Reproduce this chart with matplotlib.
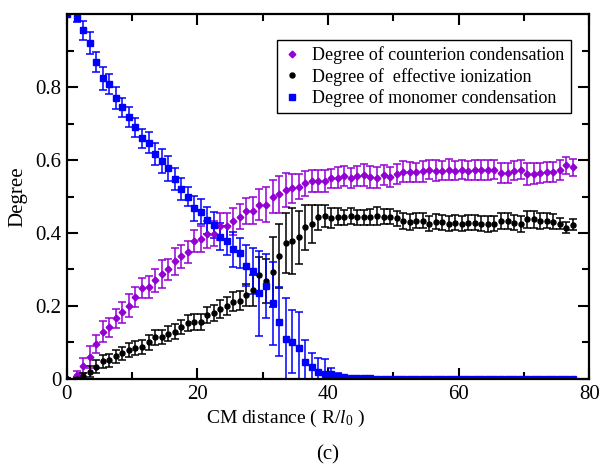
import numpy as np
import matplotlib
matplotlib.use("Agg")
import matplotlib.pyplot as plt
from matplotlib.ticker import FixedLocator, MultipleLocator

plt.rcParams['font.family'] = ['Liberation Serif', 'DejaVu Serif']
plt.rcParams['mathtext.fontset'] = 'custom'
plt.rcParams['mathtext.rm'] = 'Liberation Serif'
plt.rcParams['mathtext.it'] = 'Liberation Serif:italic'

# CM distance grid (R / l0)
distance = np.concatenate([[0.0], np.arange(1, 78) + 0.5])

counterion = [
    0.0, 0.012, 0.036, 0.060, 0.096, 0.130, 0.142, 0.166, 0.183, 0.201,
    0.225, 0.250, 0.251, 0.270, 0.288, 0.300, 0.322, 0.336, 0.347, 0.379,
    0.384, 0.397, 0.398, 0.418, 0.419, 0.432, 0.445, 0.461, 0.461, 0.478,
    0.478, 0.500, 0.506, 0.518, 0.522, 0.527, 0.536, 0.543, 0.543, 0.543,
    0.550, 0.552, 0.556, 0.550, 0.556, 0.559, 0.554, 0.552, 0.559, 0.554,
    0.561, 0.568, 0.568, 0.566, 0.569, 0.574, 0.571, 0.571, 0.574, 0.571,
    0.574, 0.571, 0.573, 0.573, 0.573, 0.574, 0.565, 0.565, 0.571, 0.574,
    0.562, 0.563, 0.565, 0.568, 0.568, 0.573, 0.586, 0.580,
]
counterion_err = [
    0.003, 0.010, 0.021, 0.030, 0.025, 0.029, 0.026, 0.027, 0.029, 0.031,
    0.027, 0.028, 0.030, 0.032, 0.038, 0.030, 0.038, 0.032, 0.030, 0.030,
    0.036, 0.037, 0.035, 0.037, 0.035, 0.037, 0.035, 0.035, 0.037, 0.043,
    0.048, 0.046, 0.050, 0.046, 0.041, 0.034, 0.034, 0.030, 0.030, 0.030,
    0.026, 0.028, 0.027, 0.028, 0.028, 0.030, 0.030, 0.030, 0.028, 0.028,
    0.028, 0.028, 0.027, 0.027, 0.028, 0.027, 0.028, 0.027, 0.028, 0.027,
    0.027, 0.027, 0.028, 0.027, 0.027, 0.027, 0.028, 0.028, 0.027, 0.027,
    0.030, 0.028, 0.028, 0.027, 0.027, 0.027, 0.023, 0.023,
]

ionization = [
    0.0, 0.0, 0.007, 0.020, 0.034, 0.048, 0.051, 0.062, 0.070, 0.080,
    0.085, 0.088, 0.100, 0.114, 0.115, 0.124, 0.130, 0.142, 0.154, 0.155,
    0.157, 0.174, 0.180, 0.192, 0.200, 0.212, 0.215, 0.229, 0.243, 0.285,
    0.268, 0.292, 0.338, 0.373, 0.379, 0.388, 0.416, 0.424, 0.443, 0.447,
    0.442, 0.445, 0.443, 0.447, 0.443, 0.443, 0.445, 0.447, 0.445, 0.445,
    0.440, 0.433, 0.431, 0.434, 0.434, 0.426, 0.431, 0.429, 0.426, 0.428,
    0.426, 0.428, 0.428, 0.426, 0.425, 0.426, 0.434, 0.434, 0.428, 0.425,
    0.437, 0.437, 0.434, 0.434, 0.431, 0.426, 0.415, 0.422,
]
ionization_err = [
    0.003, 0.004, 0.010, 0.015, 0.017, 0.017, 0.018, 0.018, 0.018, 0.019,
    0.019, 0.019, 0.020, 0.020, 0.020, 0.020, 0.020, 0.020, 0.022, 0.022,
    0.022, 0.022, 0.022, 0.024, 0.025, 0.027, 0.025, 0.030, 0.043, 0.050,
    0.060, 0.096, 0.088, 0.082, 0.090, 0.073, 0.062, 0.052, 0.034, 0.031,
    0.027, 0.023, 0.021, 0.021, 0.020, 0.021, 0.022, 0.024, 0.020, 0.020,
    0.020, 0.022, 0.022, 0.020, 0.020, 0.021, 0.021, 0.020, 0.021, 0.020,
    0.021, 0.020, 0.020, 0.020, 0.021, 0.021, 0.022, 0.022, 0.020, 0.022,
    0.024, 0.022, 0.022, 0.021, 0.020, 0.015, 0.015, 0.015,
]

monomer = [
    1.000, 0.989, 0.955, 0.920, 0.869, 0.824, 0.808, 0.770, 0.744, 0.717,
    0.690, 0.659, 0.648, 0.616, 0.597, 0.577, 0.547, 0.521, 0.500, 0.468,
    0.458, 0.435, 0.422, 0.390, 0.379, 0.355, 0.344, 0.310, 0.296, 0.235,
    0.255, 0.207, 0.157, 0.110, 0.102, 0.086, 0.046, 0.034, 0.018, 0.013,
    0.014, 0.009, 0.004, 0.003, 0.002, 0.002, 0.002, 0.001, 0.001, 0.001,
    0.001, 0.001, 0.001, 0.001, 0.001, 0.001, 0.001, 0.001, 0.001, 0.001,
    0.001, 0.001, 0.001, 0.001, 0.001, 0.001, 0.001, 0.001, 0.001, 0.001,
    0.001, 0.001, 0.001, 0.001, 0.001, 0.001, 0.001, 0.001,
]
monomer_err = [
    0.003, 0.012, 0.025, 0.030, 0.027, 0.031, 0.028, 0.031, 0.026, 0.027,
    0.026, 0.027, 0.030, 0.031, 0.033, 0.035, 0.030, 0.030, 0.027, 0.034,
    0.034, 0.037, 0.035, 0.037, 0.039, 0.048, 0.041, 0.056, 0.063, 0.116,
    0.088, 0.114, 0.095, 0.113, 0.086, 0.098, 0.062, 0.036, 0.039, 0.043,
    0.015, 0.008, 0.005, 0.003, 0.002, 0.002, 0.002, 0.002, 0.002, 0.002,
    0.002, 0.002, 0.002, 0.002, 0.002, 0.002, 0.002, 0.002, 0.002, 0.002,
    0.002, 0.002, 0.002, 0.002, 0.002, 0.002, 0.002, 0.002, 0.002, 0.002,
    0.002, 0.002, 0.002, 0.002, 0.002, 0.002, 0.002, 0.002,
]

series = [
    ("Degree of counterion condensation", counterion, counterion_err, "#9400D3", "D", 3.4),
    ("Degree of  effective ionization", ionization, ionization_err, "black", "o", 3.6),
    ("Degree of monomer condensation", monomer, monomer_err, "#0000FF", "s", 4.4),
]

fig = plt.figure(figsize=(6.03, 4.69), dpi=100)
ax = fig.add_axes([0.111, 0.192, 0.866, 0.778])

for label, vals, errs, color, marker, ms in series:
    ax.errorbar(distance, vals, yerr=errs, fmt=marker, color=color, ms=ms,
                mec=color, elinewidth=1.1, capsize=3, capthick=1.1, label=label)

ax.set_xlim(0, 80)
ax.set_ylim(0, 1.0)
ax.xaxis.set_major_locator(MultipleLocator(20))
ax.xaxis.set_minor_locator(MultipleLocator(10))
ax.yaxis.set_major_locator(FixedLocator([0, 0.2, 0.4, 0.6, 0.8]))
ax.yaxis.set_minor_locator(FixedLocator([0.1, 0.3, 0.5, 0.7, 0.9]))
ax.set_yticklabels(["0", "0.2", "0.4", "0.6", "0.8"])

ax.tick_params(which="both", direction="in", top=True, right=True, width=1.5)
ax.tick_params(which="major", length=8, labelsize=15, pad=4)
ax.tick_params(which="minor", length=5)
for sp in ax.spines.values():
    sp.set_linewidth(1.6)

ax.set_ylabel("Degree", fontsize=15, labelpad=6)
ax.text(0.418, -0.12, r"CM distance ( R/$\mathit{l}_{\mathit{0}}$ )",
        transform=ax.transAxes, ha="center", va="baseline", fontsize=14)
fig.text(0.544, 0.021, "(c)", ha="center", va="baseline", fontsize=15)

handles, labels = ax.get_legend_handles_labels()
handles = [h[0] for h in handles]
leg = ax.legend(handles, labels, loc="upper left", bbox_to_anchor=(0.402, 0.929),
                fontsize=13, frameon=True, fancybox=False, edgecolor="black",
                framealpha=1, handlelength=1.0, handletextpad=0.6,
                labelspacing=0.2, borderpad=0.35, borderaxespad=0)
leg.get_frame().set_linewidth(1.0)

fig.savefig("out.png", dpi=100)
